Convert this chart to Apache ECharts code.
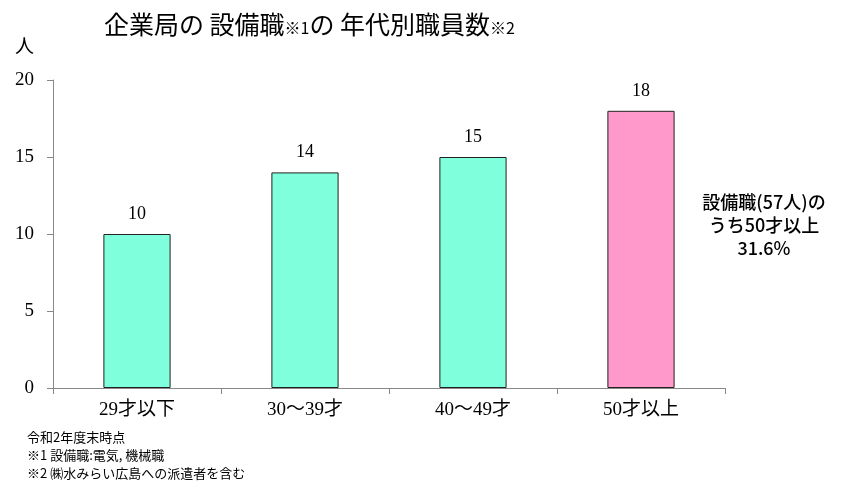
<!DOCTYPE html>
<html><head><meta charset="utf-8">
<script src="https://cdn.jsdelivr.net/npm/echarts@6/dist/echarts.min.js"></script>
<style>html,body{margin:0;padding:0;background:#fff}#c{width:846px;height:492px}</style>
</head><body><div id="c"></div>
<script>
var categories = ['29才以下', '30～39才', '40～49才', '50才以上'];
var values = [10, 14, 15, 18];
var barColors = ['#7FFFDB', '#7FFFDB', '#7FFFDB', '#FF99CC'];
var yTicks = [0, 5, 10, 15, 20];
var footnotes = ['令和2年度末時点', '※1 設備職:電気, 機械職', '※2 ㈱水みらい広島への派遣者を含む'];
var noteLines = ['設備職(57人)の', 'うち50才以上', '31.6%'];

var chart = echarts.init(document.getElementById('c'));
var jp = '"Noto Sans CJK JP", sans-serif';
var serif = '"Liberation Serif", "Noto Sans CJK JP", serif';
chart.setOption({
  animation: false,
  title: {
    text: '{m|企業局の 設備職}{s|※1}{m|の 年代別職員数}{s|※2}',
    left: 99, top: 7,
    textStyle: { fontWeight: 'normal', rich: {
      m: { fontFamily: jp, fontSize: 25, fontWeight: 'normal', color: '#000' },
      s: { fontFamily: jp, fontSize: 16, fontWeight: 'normal', color: '#000', padding: [6, 0, 0, 0] }
    } }
  },
  grid: { left: 53, right: 121, top: 80, bottom: 104 },
  xAxis: {
    type: 'category', data: categories,
    axisLine: { lineStyle: { color: '#888' } },
    axisTick: { show: true, length: 6, lineStyle: { color: '#888' } },
    axisLabel: { color: '#000', fontSize: 19, fontFamily: serif, margin: 13 }
  },
  yAxis: {
    type: 'value', min: 0, max: 20, interval: 5,
    axisLine: { show: true, lineStyle: { color: '#888' } },
    axisTick: { show: true, length: 6, lineStyle: { color: '#888' } },
    splitLine: { show: false },
    axisLabel: { color: '#000', fontSize: 19, fontFamily: serif, margin: 19 }
  },
  series: [{
    type: 'bar', barWidth: '40%',
    data: values.map(function (v, i) {
      return { value: v, itemStyle: { color: barColors[i], borderColor: '#222', borderWidth: 1 } };
    }),
    label: { show: true, position: 'top', distance: 11, color: '#000', fontSize: 18, fontFamily: serif }
  }],
  graphic: [
    {
      type: 'text', x: 15, y: 36,
      style: { text: '人', font: '19px "Noto Sans CJK JP", sans-serif', fill: '#000' }
    },
    {
      type: 'text', x: 764, y: 191,
      style: { text: noteLines.join('\n'), font: '500 18px "Noto Sans CJK JP", sans-serif',
        fill: '#000', textAlign: 'center', align: 'center', lineHeight: 23 }
    },
    {
      type: 'text', x: 27, y: 428,
      style: { text: footnotes.join('\n'), font: '13px "Noto Sans CJK JP", sans-serif',
        fill: '#000', lineHeight: 18 }
    }
  ]
});
</script></body></html>
